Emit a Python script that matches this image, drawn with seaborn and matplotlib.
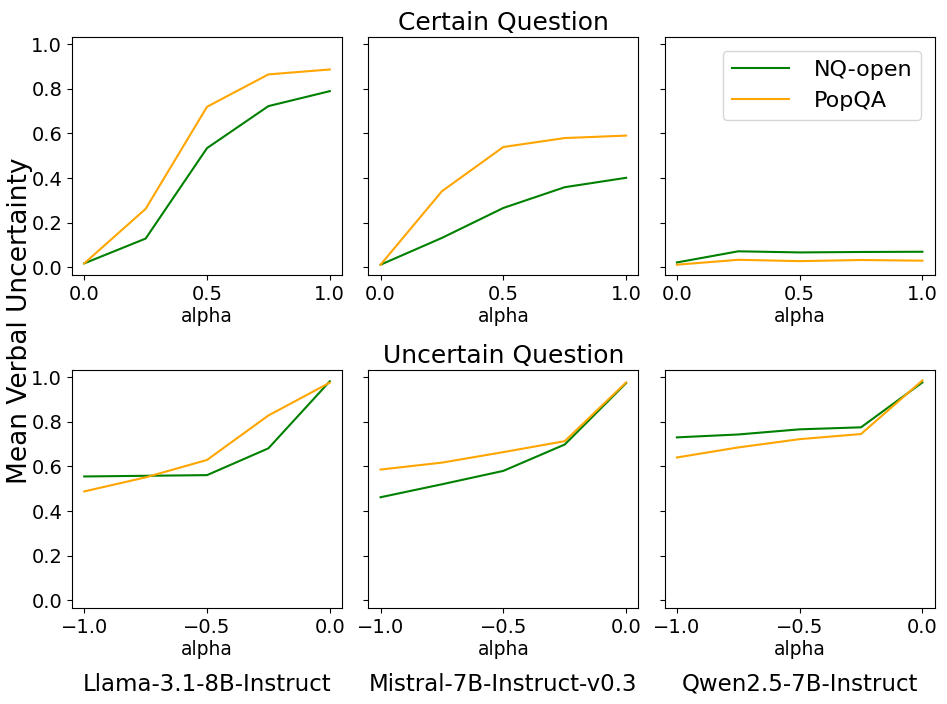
import numpy as np
import pandas as pd
import matplotlib
matplotlib.use("Agg")
import matplotlib.pyplot as plt
import seaborn as sns

models = ["Llama-3.1-8B-Instruct", "Mistral-7B-Instruct-v0.3", "Qwen2.5-7B-Instruct"]
datasets = ["NQ-open", "PopQA"]

alpha_certain = [0.0, 0.25, 0.5, 0.75, 1.0]
alpha_uncertain = [-1.0, -0.75, -0.5, -0.25, 0.0]

# Certain question
llama_certain_nq = [0.018, 0.129, 0.534, 0.722, 0.789]
llama_certain_pop = [0.018, 0.262, 0.719, 0.864, 0.886]
mistral_certain_nq = [0.012, 0.132, 0.266, 0.359, 0.401]
mistral_certain_pop = [0.012, 0.341, 0.539, 0.579, 0.590]
qwen_certain_nq = [0.022, 0.072, 0.067, 0.069, 0.070]
qwen_certain_pop = [0.012, 0.034, 0.028, 0.033, 0.030]

# Uncertain question
llama_uncertain_nq = [0.555, 0.558, 0.561, 0.681, 0.981]
llama_uncertain_pop = [0.488, 0.551, 0.629, 0.828, 0.975]
mistral_uncertain_nq = [0.462, 0.520, 0.580, 0.698, 0.973]
mistral_uncertain_pop = [0.586, 0.617, 0.664, 0.713, 0.976]
qwen_uncertain_nq = [0.730, 0.743, 0.766, 0.775, 0.976]
qwen_uncertain_pop = [0.640, 0.685, 0.722, 0.745, 0.985]

certain = {
    models[0]: (llama_certain_nq, llama_certain_pop),
    models[1]: (mistral_certain_nq, mistral_certain_pop),
    models[2]: (qwen_certain_nq, qwen_certain_pop),
}
uncertain = {
    models[0]: (llama_uncertain_nq, llama_uncertain_pop),
    models[1]: (mistral_uncertain_nq, mistral_uncertain_pop),
    models[2]: (qwen_uncertain_nq, qwen_uncertain_pop),
}

rows = []
for cond, table, alphas in [("certain", certain, alpha_certain),
                            ("uncertain", uncertain, alpha_uncertain)]:
    for m in models:
        for ds, vals in zip(datasets, table[m]):
            for a, v in zip(alphas, vals):
                rows.append(dict(cond=cond, model=m, dataset=ds, alpha=a, value=v))
df = pd.DataFrame(rows)

palette = {"NQ-open": "green", "PopQA": "orange"}

fig, axes = plt.subplots(2, 3, figsize=(9.47, 7.04), dpi=100, sharey=True)
fig.subplots_adjust(left=0.076, right=0.987, top=0.947, bottom=0.136,
                    wspace=0.097, hspace=0.40)

for r, cond in enumerate(["certain", "uncertain"]):
    for c, m in enumerate(models):
        ax = axes[r, c]
        sub = df[(df.cond == cond) & (df.model == m)]
        sns.lineplot(data=sub, x="alpha", y="value", hue="dataset",
                     palette=palette, ax=ax, linewidth=1.5,
                     legend=(r == 0 and c == 2))
        ax.set_ylim(-0.035, 1.03)
        ax.set_xlabel("alpha", fontsize=13.5, labelpad=2)
        ax.set_ylabel("")
        ax.tick_params(labelsize=14)
        if cond == "certain":
            ax.set_xticks([0.0, 0.5, 1.0])
        else:
            ax.set_xticks([-1.0, -0.5, 0.0])
        ax.set_yticks([0.0, 0.2, 0.4, 0.6, 0.8, 1.0])
        if r == 1:
            ax.text(0.5, -0.32, m, transform=ax.transAxes, ha="center",
                    va="center", fontsize=16.5)

axes[0, 1].set_title("Certain Question", fontsize=18, pad=5)
axes[1, 1].set_title("Uncertain Question", fontsize=18, pad=5)

leg = axes[0, 2].legend(loc="upper right", fontsize=16, handlelength=2.6,
                        handletextpad=1.1, borderaxespad=0.6)
leg.set_title(None)

fig.text(0.021, 0.545, "Mean Verbal Uncertainty", rotation=90, ha="center",
         va="center", fontsize=19)

fig.savefig("out.png", dpi=100)
